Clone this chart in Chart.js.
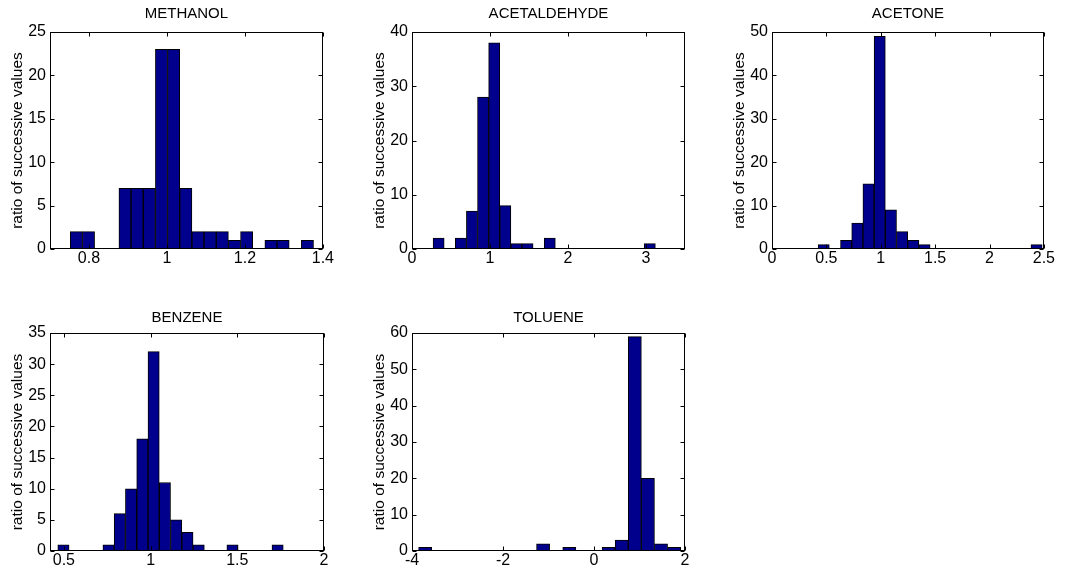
<!DOCTYPE html>
<html>
<head>
<meta charset="utf-8">
<script src="https://cdn.jsdelivr.net/npm/chart.js@4"></script>
<style>
  body { margin: 0; background: #fff; }
  .plot { position: absolute; }
</style>
</head>
<body>
<div class="plot" style="left:0px;top:0px;width:334px;height:274px"><canvas id="methanol"></canvas></div>
<div class="plot" style="left:362px;top:0px;width:333px;height:274px"><canvas id="acetaldehyde"></canvas></div>
<div class="plot" style="left:722px;top:0px;width:333px;height:274px"><canvas id="acetone"></canvas></div>
<div class="plot" style="left:0px;top:301px;width:334px;height:275px"><canvas id="benzene"></canvas></div>
<div class="plot" style="left:362px;top:301px;width:333px;height:275px"><canvas id="toluene"></canvas></div>
<script>
// histogram bin centres and counts

const methanolBins = [0.7676, 0.7988, 0.8300, 0.8612, 0.8924, 0.9236, 0.9548, 0.9860, 1.0172, 1.0484,
  1.0796, 1.1108, 1.1420, 1.1732, 1.2044, 1.2356, 1.2668, 1.2980, 1.3292, 1.3604];
const methanolCounts = [2, 2, 0, 0, 7, 7, 7, 23, 23, 7, 2, 2, 2, 1, 2, 0, 1, 1, 0, 1];

const acetaldehydeBins = [0.3413, 0.4838, 0.6263, 0.7688, 0.9113, 1.0538, 1.1963, 1.3388, 1.4813, 1.6238,
  1.7663, 1.9088, 2.0513, 2.1938, 2.3363, 2.4788, 2.6213, 2.7638, 2.9063, 3.0488];
const acetaldehydeCounts = [2, 0, 2, 7, 28, 38, 8, 1, 1, 0, 2, 0, 0, 0, 0, 0, 0, 0, 0, 1];

const acetoneBins = [0.4755, 0.5785, 0.6815, 0.7845, 0.8875, 0.9905, 1.0935, 1.1965, 1.2995, 1.4025,
  1.5055, 1.6085, 1.7115, 1.8145, 1.9175, 2.0205, 2.1235, 2.2265, 2.3295, 2.4325];
const acetoneCounts = [1, 0, 2, 6, 15, 49, 9, 4, 2, 1, 0, 0, 0, 0, 0, 0, 0, 0, 0, 1];

const benzeneBins = [0.4975, 0.5625, 0.6275, 0.6925, 0.7575, 0.8225, 0.8875, 0.9525, 1.0175, 1.0825,
  1.1475, 1.2125, 1.2775, 1.3425, 1.4075, 1.4725, 1.5375, 1.6025, 1.6675, 1.7325];
const benzeneCounts = [1, 0, 0, 0, 1, 6, 10, 18, 32, 11, 5, 3, 1, 0, 0, 1, 0, 0, 0, 1];

const tolueneBins = [-3.711, -3.423, -3.135, -2.847, -2.559, -2.271, -1.983, -1.695, -1.407, -1.119,
  -0.831, -0.543, -0.255, 0.033, 0.321, 0.609, 0.897, 1.185, 1.473, 1.761];
const tolueneCounts = [1, 0, 0, 0, 0, 0, 0, 0, 0, 2, 0, 1, 0, 0, 1, 3, 59, 20, 2, 1];

// tick labels
const methanolXTicks = [0.8, 1, 1.2, 1.4];
const methanolYTicks = [0, 5, 10, 15, 20, 25];
const acetaldehydeXTicks = [0, 1, 2, 3];
const acetaldehydeYTicks = [0, 10, 20, 30, 40];
const acetoneXTicks = [0, 0.5, 1, 1.5, 2, 2.5];
const acetoneYTicks = [0, 10, 20, 30, 40, 50];
const benzeneXTicks = [0.5, 1, 1.5, 2];
const benzeneYTicks = [0, 5, 10, 15, 20, 25, 30, 35];
const tolueneXTicks = [-4, -2, 0, 2];
const tolueneYTicks = [0, 10, 20, 30, 40, 50, 60];

const yLabel = "ratio of successive values";
const FONT = "'Liberation Sans', Arial, Helvetica, sans-serif";

// matlab style box with inward ticks on all four sides
const boxPlugin = {
  id: "box",
  afterDraw(chart) {
    const ctx = chart.ctx;
    const a = chart.chartArea;
    const x = chart.scales.x;
    const y = chart.scales.y;
    const left = Math.round(a.left) + 0.5;
    const right = Math.round(a.right) - 0.5;
    const top = Math.round(a.top) + 0.5;
    const bottom = Math.round(a.bottom) - 0.5;
    ctx.save();
    ctx.strokeStyle = "#000";
    ctx.lineWidth = 1;
    ctx.beginPath();
    x.ticks.forEach(t => {
      const px = Math.round(x.getPixelForValue(t.value)) + 0.5;
      ctx.moveTo(px, bottom);
      ctx.lineTo(px, bottom - 4);
      ctx.moveTo(px, top);
      ctx.lineTo(px, top + 4);
    });
    y.ticks.forEach(t => {
      const py = Math.round(y.getPixelForValue(t.value)) + 0.5;
      ctx.moveTo(left, py);
      ctx.lineTo(left + 4, py);
      ctx.moveTo(right, py);
      ctx.lineTo(right - 4, py);
    });
    ctx.stroke();
    ctx.strokeRect(left, top, right - left, bottom - top);
    ctx.restore();
  }
};

function makeHist(id, title, bins, counts, xTicks, yTicks, xMin, xMax, titleTop) {
  const points = bins.map((b, i) => ({ x: b, y: counts[i] }));
  new Chart(document.getElementById(id), {
    type: "bar",
    data: {
      datasets: [{
        data: points,
        backgroundColor: "#00008C",
        borderColor: "#000",
        borderWidth: 1,
        borderSkipped: false,
        barPercentage: 1,
        categoryPercentage: 1
      }]
    },
    options: {
      responsive: true,
      maintainAspectRatio: false,
      animation: false,
      layout: { padding: { right: 10, left: 0, top: 0, bottom: 0 } },
      plugins: {
        legend: { display: false },
        tooltip: { enabled: false },
        title: {
          display: true,
          fullSize: false,
          text: title,
          color: "#000",
          font: { family: FONT, size: 15, weight: "normal" },
          padding: { top: titleTop, bottom: 14 - titleTop }
        }
      },
      scales: {
        x: {
          type: "linear",
          min: xMin,
          max: xMax,
          offset: false,
          grid: { display: false, drawTicks: false },
          border: { display: false },
          afterBuildTicks: s => { s.ticks = xTicks.map(v => ({ value: v })); },
          afterFit: s => { s.height = 25; },
          ticks: {
            color: "#000",
            padding: 0,
            maxRotation: 0,
            autoSkip: false,
            font: { family: FONT, size: 16 },
            callback: v => String(v)
          }
        },
        y: {
          min: yTicks[0],
          max: yTicks[yTicks.length - 1],
          grid: { display: false, drawTicks: false },
          border: { display: false },
          afterBuildTicks: s => { s.ticks = yTicks.map(v => ({ value: v })); },
          afterFit: s => { s.width = 50; },
          ticks: {
            color: "#000",
            padding: 4,
            font: { family: FONT, size: 16 },
            callback: v => String(v)
          },
          title: {
            display: true,
            text: yLabel,
            color: "#000",
            font: { family: FONT, size: 15.5 },
            padding: { top: 8, bottom: 0 }
          }
        }
      }
    },
    plugins: [boxPlugin]
  });
}

makeHist("methanol", "METHANOL", methanolBins, methanolCounts, methanolXTicks, methanolYTicks, 0.7, 1.4, 5);
makeHist("acetaldehyde", "ACETALDEHYDE", acetaldehydeBins, acetaldehydeCounts, acetaldehydeXTicks, acetaldehydeYTicks, 0, 3.5, 5);
makeHist("acetone", "ACETONE", acetoneBins, acetoneCounts, acetoneXTicks, acetoneYTicks, 0, 2.5, 5);
makeHist("benzene", "BENZENE", benzeneBins, benzeneCounts, benzeneXTicks, benzeneYTicks, 0.42, 2, 8);
makeHist("toluene", "TOLUENE", tolueneBins, tolueneCounts, tolueneXTicks, tolueneYTicks, -4, 2, 8);
</script>
</body>
</html>
